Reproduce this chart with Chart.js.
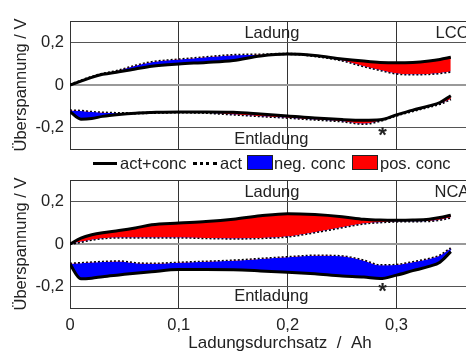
<!doctype html>
<html lang="de">
  <head>
    <meta charset="utf-8">
    <title>Überspannung LCO / NCA</title>
    <script src="https://cdn.jsdelivr.net/npm/chart.js@4.4.1/dist/chart.umd.min.js"></script>
    <style>
      body {
        margin: 0;
        width: 466px;
        height: 356px;
        overflow: hidden;
        position: relative;
        background: #fff;
        font-family: 'Liberation Sans', Arial, sans-serif;
        color: #222;
      }
      canvas { position: absolute; left: 0; }
      #lco { top: 0; }
      #nca { top: 170px; }
      .lg { position: absolute; }
      .lg-text { font-size: 16.5px; line-height: 20px; top: 153px; white-space: nowrap; }
      .lg-line { top: 162px; width: 24px; height: 3px; background: #000; }
      .lg-dot { top: 162px; width: 24px; height: 0; border-top: 3px dotted #000; }
      .lg-box { top: 155px; width: 24px; height: 13px; border: 1px solid #222; }
    </style>
  </head>
  <body>
    <canvas id="lco" width="490" height="160"></canvas>

    <div class="lg lg-line" style="left:93px"></div>
    <div class="lg lg-text" style="left:120px">act+conc</div>
    <div class="lg lg-dot" style="left:193px"></div>
    <div class="lg lg-text" style="left:220px">act</div>
    <div class="lg lg-box" style="left:247px; background:#0000ff"></div>
    <div class="lg lg-text" style="left:274px">neg. conc</div>
    <div class="lg lg-box" style="left:352px; background:#ff0000"></div>
    <div class="lg lg-text" style="left:380px">pos. conc</div>

    <canvas id="nca" width="490" height="186"></canvas>

    <script>
      // Ladungsdurchsatz in Ah (gemeinsame Stützstellen)
      const xAh = [0, 0.01, 0.02, 0.03, 0.045, 0.06, 0.075, 0.1, 0.125, 0.15, 0.175, 0.2, 0.225, 0.25, 0.27, 0.285, 0.3, 0.315, 0.33, 0.34, 0.35];

      // LCO: Laden
      const lcoChargeActConc = [0, 0.018, 0.036, 0.05, 0.062, 0.075, 0.088, 0.099, 0.106, 0.115, 0.136, 0.145, 0.138, 0.122, 0.112, 0.106, 0.104, 0.106, 0.113, 0.12, 0.13];
      const lcoChargeAct     = [0, 0.02, 0.038, 0.052, 0.068, 0.09, 0.107, 0.119, 0.13, 0.14, 0.142, 0.146, 0.136, 0.115, 0.088, 0.07, 0.054, 0.05, 0.052, 0.056, 0.063];
      // LCO: Entladen
      const lcoDischargeActConc = [-0.125, -0.16, -0.157, -0.147, -0.138, -0.132, -0.129, -0.126, -0.126, -0.128, -0.136, -0.145, -0.155, -0.162, -0.165, -0.163, -0.14, -0.118, -0.098, -0.082, -0.05];
      const lcoDischargeAct     = [-0.12, -0.122, -0.127, -0.13, -0.132, -0.132, -0.13, -0.128, -0.13, -0.138, -0.146, -0.153, -0.162, -0.17, -0.182, -0.168, -0.143, -0.122, -0.102, -0.088, -0.066];

      // NCA: Laden
      const ncaChargeActConc = [0, 0.027, 0.043, 0.053, 0.063, 0.075, 0.09, 0.098, 0.105, 0.116, 0.132, 0.142, 0.138, 0.128, 0.116, 0.112, 0.111, 0.112, 0.116, 0.124, 0.135];
      const ncaChargeAct     = [0, 0.01, 0.02, 0.027, 0.031, 0.031, 0.03, 0.031, 0.028, 0.026, 0.028, 0.035, 0.055, 0.078, 0.096, 0.102, 0.106, 0.107, 0.108, 0.114, 0.124];
      // NCA: Entladen
      const ncaDischargeActConc = [-0.095, -0.163, -0.16, -0.153, -0.145, -0.137, -0.13, -0.12, -0.12, -0.121, -0.126, -0.132, -0.14, -0.15, -0.155, -0.162, -0.146, -0.125, -0.105, -0.085, -0.036];
      const ncaDischargeAct     = [-0.093, -0.09, -0.087, -0.084, -0.082, -0.09, -0.093, -0.088, -0.083, -0.078, -0.07, -0.062, -0.055, -0.058, -0.078, -0.1, -0.098, -0.085, -0.07, -0.054, -0.02];

      // Achsenbeschriftung
      const xTicks = [0, 0.1, 0.2, 0.3];
      const xTickLabels = ['0', '0,1', '0,2', '0,3'];
      const yTicks = [-0.2, 0, 0.2];
      const yTickLabels = ['-0,2', '0', '0,2'];

      const font = 'Liberation Sans, Arial, sans-serif';
      const textColor = '#222';

      function pts(ys) {
        return ys.map((y, i) => ({ x: xAh[i], y: y }));
      }

      function solid(ys, target) {
        return {
          data: pts(ys),
          borderColor: '#000',
          borderWidth: 3,
          pointRadius: 0,
          cubicInterpolationMode: 'monotone',
          fill: { target: target, above: '#ff0000', below: '#0000ff' }
        };
      }

      function dotted(ys) {
        return {
          data: pts(ys),
          borderColor: '#000',
          borderWidth: 2.5,
          borderDash: [2, 2],
          pointRadius: 0,
          cubicInterpolationMode: 'monotone',
          fill: false
        };
      }

      // Rahmen oben + Textmarken im Diagramm
      const panelText = {
        id: 'panelText',
        afterDraw(chart, args, opts) {
          const ctx = chart.ctx;
          const a = chart.chartArea;
          const xs = chart.scales.x, ys = chart.scales.y;
          ctx.save();
          ctx.strokeStyle = '#333';
          ctx.lineWidth = 1;
          ctx.beginPath();
          ctx.moveTo(a.left, a.top + 0.5);
          ctx.lineTo(a.right, a.top + 0.5);
          ctx.stroke();
          ctx.fillStyle = textColor;
          (opts.labels || []).forEach(l => {
            ctx.font = (l.weight || 'normal') + ' ' + (l.size || 16.5) + 'px ' + font;
            ctx.textAlign = l.align || 'center';
            ctx.textBaseline = 'middle';
            ctx.fillText(l.text, xs.getPixelForValue(l.x), ys.getPixelForValue(l.y) + (l.dy || 0));
          });
          ctx.restore();
        }
      };

      // keine automatische Randreserve für überstehende Ticklabels
      function noEdgePadding(s) {
        s.paddingTop = 0;
        s.paddingBottom = 0;
        s.paddingLeft = 0;
        s.paddingRight = 0;
      }

      function makePanel(id, charge, chargeAct, discharge, dischargeAct, cfg) {
        return new Chart(document.getElementById(id), {
          type: 'line',
          data: {
            datasets: [
              solid(charge, 1),
              dotted(chargeAct),
              solid(discharge, 3),
              dotted(dischargeAct)
            ]
          },
          plugins: [panelText],
          options: {
            responsive: false,
            animation: false,
            layout: { padding: { top: cfg.padTop, left: 8, right: 0, bottom: cfg.padBottom } },
            plugins: {
              legend: { display: false },
              tooltip: { enabled: false },
              panelText: { labels: cfg.labels }
            },
            scales: {
              x: {
                type: 'linear',
                min: 0,
                max: 0.386,
                afterBuildTicks: s => { s.ticks = xTicks.map(v => ({ value: v })); },
                afterFit: s => { s.height = cfg.xHeight; noEdgePadding(s); },
                grid: { color: '#333', lineWidth: 1, drawTicks: false },
                border: { color: '#333', width: 1 },
                ticks: {
                  display: cfg.showX,
                  padding: 8,
                  color: textColor,
                  font: { family: font, size: 16.5 },
                  callback: v => xTickLabels[xTicks.indexOf(v)]
                },
                title: {
                  display: cfg.showX,
                  text: 'Ladungsdurchsatz  /  Ah',
                  color: textColor,
                  font: { family: font, size: 17 },
                  padding: { top: 0, bottom: 2 }
                }
              },
              y: {
                min: -0.3,
                max: 0.3,
                afterBuildTicks: s => { s.ticks = yTicks.map(v => ({ value: v })); },
                afterFit: s => { s.width = 62; noEdgePadding(s); },
                grid: {
                  drawTicks: false,
                  color: c => c.tick && c.tick.value === 0 ? '#999' : '#555',
                  lineWidth: c => c.tick && c.tick.value === 0 ? 2 : 1
                },
                border: { color: '#333', width: 1 },
                ticks: {
                  padding: 6,
                  color: textColor,
                  font: { family: font, size: 16.5 },
                  callback: v => yTickLabels[yTicks.indexOf(v)]
                },
                title: {
                  display: true,
                  text: 'Überspannung / V',
                  color: textColor,
                  font: { family: font, size: 16.5 },
                  padding: { top: 4, bottom: 0 }
                }
              }
            }
          }
        });
      }

      makePanel('lco', lcoChargeActConc, lcoChargeAct, lcoDischargeActConc, lcoDischargeAct, {
        padTop: 21, padBottom: 11, xHeight: 0, showX: false,
        labels: [
          { text: 'Ladung', x: 0.1856, y: 0.242 },
          { text: 'LCO', x: 0.336, y: 0.242, align: 'left' },
          { text: 'Entladung', x: 0.185, y: -0.254 },
          { text: '*', x: 0.2873, y: -0.213, size: 22, weight: 'bold', dy: 5 }
        ]
      });

      makePanel('nca', ncaChargeActConc, ncaChargeAct, ncaDischargeActConc, ncaDischargeAct, {
        padTop: 10, padBottom: 0, xHeight: 48, showX: true,
        labels: [
          { text: 'Ladung', x: 0.1856, y: 0.24 },
          { text: 'NCA', x: 0.335, y: 0.24, align: 'left' },
          { text: 'Entladung', x: 0.185, y: -0.245 },
          { text: '*', x: 0.2873, y: -0.2, size: 22, weight: 'bold', dy: 5 }
        ]
      });
    </script>
  </body>
</html>
